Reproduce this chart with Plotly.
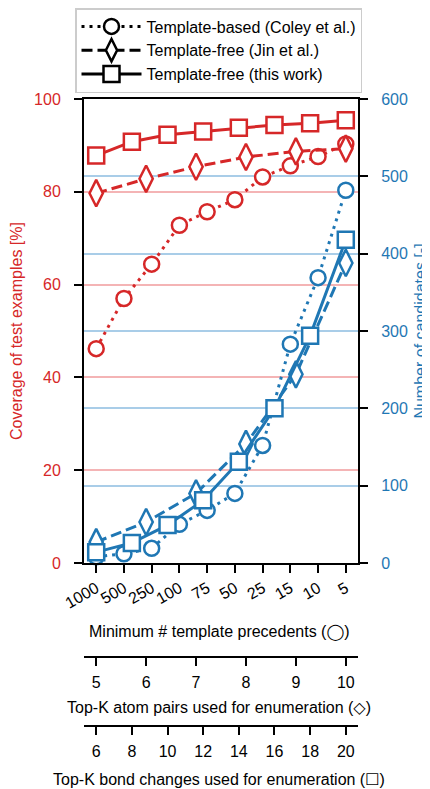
import plotly.graph_objects as go

RED = "#d62728"
BLUE = "#1f77b4"
FONT = "Liberation Sans, Arial, DejaVu Sans, sans-serif"

# ---- data ----
min_prec_labels = ["1000", "500", "250", "100", "75", "50", "25", "15", "10", "5"]
min_prec_pos = list(range(len(min_prec_labels)))
atom_pairs_k = [5, 6, 7, 8, 9, 10]
bond_changes_k = [6, 8, 10, 12, 14, 16, 18, 20]

coley_coverage = [46.2, 57.0, 64.4, 72.8, 75.7, 78.3, 83.2, 85.6, 87.6, 90.3]
jin_coverage = [79.7, 82.8, 85.4, 87.5, 88.7, 89.3]
ours_coverage = [87.8, 90.8, 92.3, 93.0, 93.8, 94.4, 94.8, 95.4]

coley_candidates = [8, 12, 19, 50, 68, 90, 152, 283, 369, 482]
jin_candidates = [27, 53, 90, 154, 244, 388]
ours_candidates = [14, 26, 49, 81, 131, 200, 294, 418]

# page body has an 8px margin: work in screen pixels and subtract it
OFF = 8
W, H = 430 - OFF, 789 - OFF
ML, MR, MT, MB = 84 - OFF, 430 - 358, 99 - OFF, 4
PH = H - MT - MB
PW = W - ML - MR
def py(pix):
    return (H - MB - (pix - OFF)) / PH
def px(pix):
    return ((pix - OFF) - ML) / PW

dom0 = py(563)
pad = 0.44
FS = 16
DOT = "3px,5px"
DASH = "11px,5px"

fig = go.Figure()

def add(x, y, xa, ya, color, dash, symbol, size):
    fig.add_trace(go.Scatter(
        x=x, y=y, xaxis=xa, yaxis=ya, mode="lines+markers", showlegend=False,
        line=dict(color=color, width=3, dash=dash),
        marker=dict(symbol=symbol, size=size, color="white",
                    line=dict(color=color, width=2.5)),
        cliponaxis=False))

# coverage (left axis)
add(min_prec_pos, coley_coverage, "x", "y", RED, DOT, "circle", 15)
add(atom_pairs_k, jin_coverage, "x2", "y", RED, DASH, "diamond-tall", 19)
add(bond_changes_k, ours_coverage, "x3", "y", RED, "solid", "square", 16)
# candidates (right axis)
add(min_prec_pos, coley_candidates, "x", "y2", BLUE, DOT, "circle", 15)
add(atom_pairs_k, jin_candidates, "x2", "y2", BLUE, DASH, "diamond-tall", 19)
add(bond_changes_k, ours_candidates, "x3", "y2", BLUE, "solid", "square", 16)

# legend entries
for name, dash, sym, sz in [("Template-based (Coley et al.)", DOT, "circle", 15),
                            ("Template-free (Jin et al.)", DASH, "diamond-tall", 19),
                            ("Template-free (this work)", "solid", "square", 16)]:
    fig.add_trace(go.Scatter(
        x=[None], y=[None], mode="lines+markers", name=name,
        line=dict(color="black", width=3, dash=dash),
        marker=dict(symbol=sym, size=sz, color="white", line=dict(color="black", width=2.5))))

tickfont = dict(family=FONT, size=FS, color="black")
axcommon = dict(showline=True, linecolor="black", linewidth=2, ticks="outside",
                ticklen=8, tickwidth=2, tickcolor="black", zeroline=False, showgrid=False)

fig.update_layout(
    width=W, height=H,
    margin=dict(l=ML, r=MR, t=MT, b=MB, autoexpand=False),
    plot_bgcolor="white", paper_bgcolor="white",
    font=dict(family=FONT, size=FS, color="black"),
    xaxis=dict(**axcommon, range=[-pad, 9 + pad], tickvals=min_prec_pos,
               ticktext=min_prec_labels, tickangle=-30, mirror=True,
               tickfont=tickfont, anchor="y"),
    xaxis2=dict(**axcommon, overlaying="x", anchor="free", position=py(656.7),
                side="bottom", range=[5 - pad * 5 / 9, 10 + pad * 5 / 9],
                tickvals=atom_pairs_k, tickfont=tickfont, ticklabelstandoff=3),
    xaxis3=dict(**axcommon, overlaying="x", anchor="free", position=py(725.7),
                side="bottom", range=[6 - pad * 14 / 9, 20 + pad * 14 / 9],
                tickvals=bond_changes_k, tickfont=tickfont, ticklabelstandoff=3),
    yaxis=dict(showline=True, linecolor="black", linewidth=2, ticks="outside",
               ticklen=8, tickwidth=2, tickcolor="black", zeroline=False,
               domain=[dom0, 1], range=[0, 100], dtick=20, ticklabelstandoff=10,
               showgrid=True, gridcolor="#f4b4b5", gridwidth=1.5,
               tickfont=dict(family=FONT, size=FS, color=RED),
               title=dict(text="Coverage of test examples [%]",
                          font=dict(family=FONT, size=FS, color=RED), standoff=10)),
    yaxis2=dict(showline=True, linecolor="black", linewidth=2, ticks="outside",
                ticklen=8, tickwidth=2, tickcolor="black", zeroline=False,
                overlaying="y", side="right", range=[0, 600], dtick=100,
                ticklabelstandoff=10,
                showgrid=True, gridcolor="#a9cde8", gridwidth=1.5,
                tickfont=dict(family=FONT, size=FS, color=BLUE),
                title=dict(text="Number of candidates [-]",
                           font=dict(family=FONT, size=FS, color=BLUE), standoff=8)),
    legend=dict(x=px(75), y=py(8), xanchor="left", yanchor="top",
                bgcolor="white", bordercolor="#cccccc", borderwidth=1.5,
                font=dict(family=FONT, size=FS, color="black"),
                itemwidth=60, tracegroupgap=0),
)

cx = px(219)
for text, ypix in [("Minimum # template precedents (◯)", 632),
                   ("Top-K atom pairs used for enumeration (◇)", 707),
                   ("Top-K bond changes used for enumeration (☐)", 779)]:
    fig.add_annotation(text=text, xref="paper", yref="paper", x=cx, y=py(ypix),
                       xanchor="center", yanchor="middle", showarrow=False,
                       font=dict(family=FONT, size=FS, color="black"))

fig.write_html("out.html")
